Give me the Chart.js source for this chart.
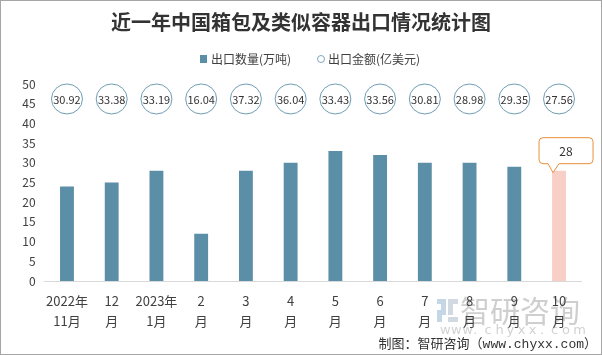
<!DOCTYPE html>
<html>
<head>
<meta charset="utf-8">
<script src="https://cdn.jsdelivr.net/npm/chart.js@4/dist/chart.umd.min.js"></script>
<style>
html,body{margin:0;padding:0;background:#fff;}
#wrap{width:602px;height:355px;position:relative;}
</style>
</head>
<body>
<div id="wrap"><canvas id="c" width="602" height="355"></canvas></div>
<script>
// ---- data ----
const categories = [["2022年","11月"],["12","月"],["2023年","1月"],["2","月"],["3","月"],["4","月"],["5","月"],["6","月"],["7","月"],["8","月"],["9","月"],["10","月"]];
const quantities = [24, 25, 28, 12, 28, 30, 33, 32, 30, 30, 29, 28];   // 出口数量(万吨)
const amounts = [30.92, 33.38, 33.19, 16.04, 37.32, 36.04, 33.43, 33.56, 30.81, 28.98, 29.35, 27.56]; // 出口金额(亿美元)
const yTicks = [0,5,10,15,20,25,30,35,40,45,50];
const titleText = "近一年中国箱包及类似容器出口情况统计图";
const legendLabels = ["出口数量(万吨)", "出口金额(亿美元)"];
const sourceText = "制图：智研咨询（www.chyxx.com）";

const BLUE = "#5b8fa7";
const PINK = "#f8cfc6";
const CJK = '"Noto Sans CJK SC", "Noto Sans", sans-serif';
const bubbleLevel = 46.2; // label row on the left axis

const decor = {
  id: 'decor',
  beforeDraw(chart) {
    const ctx = chart.ctx;
    ctx.save();
    ctx.fillStyle = '#fff';
    ctx.fillRect(0, 0, chart.width, chart.height);
    // watermark logo
    ctx.fillStyle = '#c5d6e6';
    ctx.fillRect(437, 299, 9, 5);
    ctx.fillRect(441, 303, 5, 8);
    ctx.fillRect(437, 310, 9, 5);
    ctx.fillRect(437, 314, 5, 8);
    ctx.fillStyle = '#d3d9e0';
    ctx.fillRect(448, 299, 10, 5);
    ctx.fillRect(448, 303, 5, 12);
    ctx.fillRect(448, 317, 10, 5);
    ctx.fillStyle = '#cfcfcf';
    ctx.font = '30px ' + CJK;
    ctx.textAlign = 'left';
    ctx.textBaseline = 'middle';
    ctx.fillText('智研咨询', 460, 311);
    ctx.font = '13px "DejaVu Sans", sans-serif';
    ctx.fillStyle = '#d2d2d2';
    const w = 'www.chyxx.com';
    for (let i = 0; i < w.length; i++) {
      ctx.fillText(w[i], 440 + i * 11.1, 331);
    }
    ctx.restore();
  },
  afterDraw(chart) {
    const ctx = chart.ctx;
    ctx.save();
    // title
    ctx.fillStyle = '#333';
    ctx.font = 'bold 20px ' + CJK;
    ctx.textAlign = 'center';
    ctx.textBaseline = 'middle';
    ctx.fillText(titleText, 301, 22);
    // legend
    ctx.font = '12px ' + CJK;
    ctx.textAlign = 'left';
    ctx.fillStyle = BLUE;
    ctx.fillRect(200, 55, 7, 8);
    ctx.fillStyle = '#404040';
    ctx.fillText(legendLabels[0], 211, 59);
    ctx.beginPath();
    ctx.arc(321, 59, 3.5, 0, Math.PI * 2);
    ctx.strokeStyle = '#7ea8bf';
    ctx.lineWidth = 1;
    ctx.stroke();
    ctx.fillStyle = '#404040';
    ctx.fillText(legendLabels[1], 328, 59);

    // bubbles with amount values
    const meta = chart.getDatasetMeta(1);
    const yScale = chart.scales.y;
    const by = yScale.getPixelForValue(bubbleLevel);
    ctx.font = '11px ' + CJK;
    ctx.textAlign = 'center';
    meta.data.forEach((pt, i) => {
      ctx.beginPath();
      ctx.ellipse(pt.x, by, 15.5, 15, 0, 0, Math.PI * 2);
      ctx.fillStyle = '#fff';
      ctx.fill();
      ctx.strokeStyle = '#6f9db5';
      ctx.lineWidth = 1;
      ctx.stroke();
      ctx.fillStyle = '#333';
      ctx.fillText(amounts[i].toFixed(2), pt.x, by + 0.5);
    });

    // callout on last bar
    const bmeta = chart.getDatasetMeta(0);
    const last = quantities.length - 1;
    const bar = bmeta.data[last];
    const bx = bar.x, bt = bar.y;
    const L = bx - 20, R = bx + 34, T = bt - 33, B = bt - 7, r = 4;
    ctx.beginPath();
    ctx.moveTo(L + r, T);
    ctx.lineTo(R - r, T);
    ctx.quadraticCurveTo(R, T, R, T + r);
    ctx.lineTo(R, B - r);
    ctx.quadraticCurveTo(R, B, R - r, B);
    ctx.lineTo(bx, B);
    ctx.lineTo(bx - 6, bt + 2);
    ctx.lineTo(bx - 11, B);
    ctx.lineTo(L + r, B);
    ctx.quadraticCurveTo(L, B, L, B - r);
    ctx.lineTo(L, T + r);
    ctx.quadraticCurveTo(L, T, L + r, T);
    ctx.closePath();
    ctx.fillStyle = '#fff';
    ctx.fill();
    ctx.strokeStyle = '#ea8f3c';
    ctx.lineWidth = 1;
    ctx.stroke();
    ctx.fillStyle = '#333';
    ctx.font = '12px ' + CJK;
    ctx.fillText(String(quantities[last]), (L + R) / 2, (T + B) / 2 + 0.5);

    // source
    ctx.font = '13px "Liberation Mono", ' + CJK;
    ctx.textAlign = 'right';
    ctx.fillStyle = '#333';
    ctx.fillText(sourceText, 597, 345);

    // frame
    ctx.strokeStyle = '#a6a6a6';
    ctx.lineWidth = 1;
    ctx.strokeRect(0.5, 0.5, chart.width - 1, chart.height - 1);
    ctx.restore();
  }
};

new Chart(document.getElementById('c'), {
  data: {
    labels: categories,
    datasets: [
      {
        type: 'bar',
        label: legendLabels[0],
        data: quantities,
        backgroundColor: quantities.map((v, i) => i === quantities.length - 1 ? PINK : BLUE),
        barPercentage: 0.31,
        categoryPercentage: 1,
        yAxisID: 'y'
      },
      {
        type: 'line',
        label: legendLabels[1],
        data: amounts,
        showLine: false,
        pointRadius: 0,
        yAxisID: 'y2'
      }
    ]
  },
  options: {
    responsive: false,
    animation: false,
    layout: { padding: { top: 84, right: 20.6, bottom: 0, left: 0 } },
    plugins: { legend: { display: false }, title: { display: false }, tooltip: { enabled: false } },
    scales: {
      x: {
        grid: { display: false, drawTicks: false },
        border: { display: true, color: '#d9d9d9', width: 1 },
        ticks: { color: '#404040', font: { family: CJK, size: 13, lineHeight: 1.54 }, padding: 10, maxRotation: 0, autoSkip: false },
        afterFit(s) { s.height = 74; }
      },
      y: {
        min: 0, max: 50,
        afterBuildTicks(s) { s.ticks = yTicks.map(v => ({ value: v })); },
        grid: { display: false, drawTicks: false },
        border: { display: false },
        ticks: { color: '#404040', font: { family: CJK, size: 12 }, padding: 9 },
        afterFit(s) { s.width = 44.6; }
      },
      y2: { display: false, min: 0, max: 50 }
    }
  },
  plugins: [decor]
});
</script>
</body>
</html>
